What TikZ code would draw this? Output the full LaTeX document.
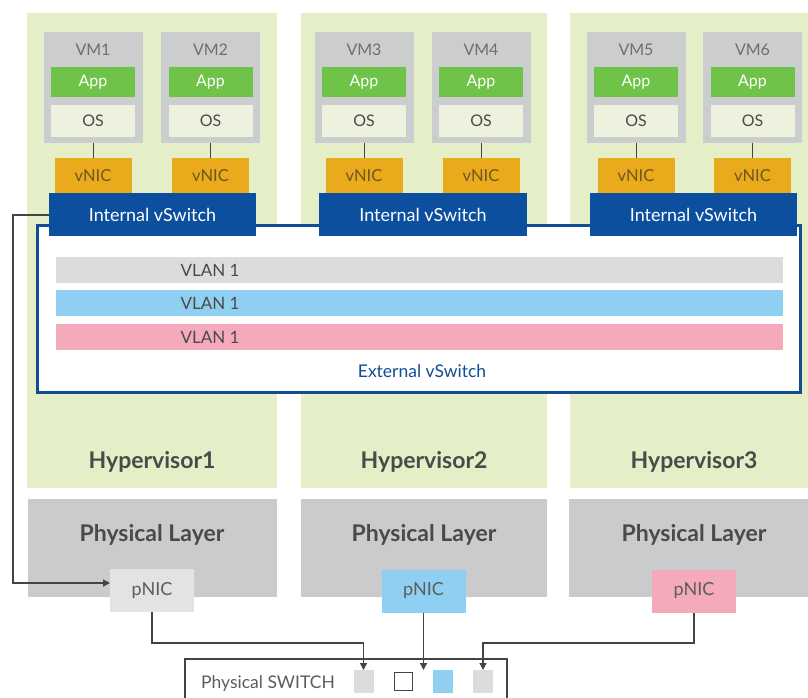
\documentclass[tikz,border=0pt]{standalone}
\usepackage{fontspec}
\setmainfont{Lato}
\usetikzlibrary{arrows.meta}
\definecolor{hvgreen}{HTML}{E4EFC8}
\definecolor{vmgray}{HTML}{CBCDCF}
\definecolor{appgreen}{HTML}{6EC348}
\definecolor{oscol}{HTML}{EDF2DE}
\definecolor{vniccol}{HTML}{E9AA1C}
\definecolor{vnictext}{HTML}{6E5522}
\definecolor{swblue}{HTML}{0C4F9F}
\definecolor{extblue}{HTML}{0F4D95}
\definecolor{vlangray}{HTML}{DCDCDC}
\definecolor{vlanblue}{HTML}{8FD0F2}
\definecolor{vlanpink}{HTML}{F4AABB}
\definecolor{physgray}{HTML}{C9CBCD}
\definecolor{pnicgray}{HTML}{E3E3E3}
\definecolor{txtgray}{HTML}{4A4A4A}
\definecolor{linegray}{HTML}{444444}
\tikzset{
  box/.style={rectangle, inner sep=0pt, outer sep=0pt, draw=none},
  hvbox/.style={box, fill=hvgreen},
  physbox/.style={box, fill=physgray},
  vmbox/.style={box, fill=vmgray, minimum width=99pt, minimum height=111pt},
  vmlabel/.style={text=txtgray!80, font=\fontsize{16}{16}\selectfont},
  appbox/.style={box, fill=appgreen, minimum width=84pt, minimum height=30pt, text=white, font=\fontsize{16}{16}\selectfont},
  osbox/.style={box, fill=oscol, minimum width=84pt, minimum height=32pt, text=txtgray, font=\fontsize{16}{16}\selectfont},
  vnicbox/.style={box, fill=vniccol, minimum width=77pt, minimum height=36pt, text=vnictext, font=\fontsize{16.5}{16}\selectfont},
  iswitch/.style={box, fill=swblue, minimum height=43pt, text=white, font=\fontsize{18}{18}\selectfont},
  vlanbar/.style={box, minimum width=727pt, minimum height=26pt},
  vlantext/.style={text=txtgray, font=\fontsize{17}{17}\selectfont},
  hvtext/.style={text=txtgray, font=\bfseries\fontsize{23}{23}\selectfont},
  pnicbox/.style={box, minimum width=84pt, minimum height=43pt, text=txtgray!90, font=\fontsize{18}{18}\selectfont},
  portbox/.style={box, minimum width=20pt, minimum height=23pt},
  conn/.style={draw=linegray, line width=1.2pt},
  arr/.style={conn, -{Triangle[length=7pt,width=7pt]}},
}
\begin{document}
\begin{tikzpicture}[x=1pt,y=-1pt]
\useasboundingbox (0,0) rectangle (808,698);
\clip (0,0) rectangle (808,698);
% hypervisor columns
\node[hvbox, minimum width=250pt, minimum height=475pt] (hv1) at (152,250.5) {};
\node[hvbox, minimum width=246pt, minimum height=475pt] (hv2) at (424,250.5) {};
\node[hvbox, minimum width=238pt, minimum height=475pt] (hv3) at (689,250.5) {};
\node[hvtext] (hvt1) at (152,462) {Hypervisor1};
\node[hvtext] (hvt2) at (424,462) {Hypervisor2};
\node[hvtext] (hvt3) at (694,462) {Hypervisor3};
% physical layers
\node[physbox, minimum width=249pt, minimum height=98pt] (ph1) at (152.5,548) {};
\node[physbox, minimum width=246pt, minimum height=98pt] (ph2) at (424,548) {};
\node[physbox, minimum width=239pt, minimum height=98pt] (ph3) at (688.5,548) {};
\node[hvtext] (pht1) at (152,535) {Physical Layer};
\node[hvtext] (pht2) at (424,535) {Physical Layer};
\node[hvtext] (pht3) at (694,535) {Physical Layer};
% VMs
\foreach \i/\cx in {1/93,2/210.5,3/364,4/481,5/636,6/752.5}{
  \node[vmbox] (vm\i) at (\cx,87.5) {};
  \node[vmlabel] (vml\i) at (\cx,50) {VM\i};
  \node[appbox] (app\i) at (\cx,82) {App};
  \node[osbox] (os\i) at (\cx,121) {OS};
  \node[vnicbox] (vnic\i) at (\cx,176) {vNIC};
  \draw[conn, line width=1pt] (vm\i.south) -- (vnic\i.north);
}
% external vSwitch
\node[box, draw=extblue, line width=3pt, fill=white, minimum width=763pt, minimum height=167pt] (ext) at (418.5,308.5) {};
\node[text=extblue, font=\fontsize{17.5}{17}\selectfont] (extl) at (422,371) {External vSwitch};
% internal vSwitches
\node[iswitch, minimum width=207pt] (is1) at (152.5,214.5) {Internal vSwitch};
\node[iswitch, minimum width=208pt] (is2) at (423,214.5) {Internal vSwitch};
\node[iswitch, minimum width=207pt] (is3) at (693.5,214.5) {Internal vSwitch};
% VLANs
\node[vlanbar, fill=vlangray] (vl1) at (419.5,270) {};
\node[vlanbar, fill=vlanblue] (vl2) at (419.5,303) {};
\node[vlanbar, fill=vlanpink] (vl3) at (419.5,337) {};
\node[vlantext] at (210,270) {VLAN 1};
\node[vlantext] at (210,303) {VLAN 1};
\node[vlantext] at (210,337) {VLAN 1};
% pNICs
\node[pnicbox, fill=pnicgray] (pn1) at (152,590.5) {pNIC};
\node[pnicbox, fill=vlanblue] (pn2) at (423.5,591) {pNIC};
\node[pnicbox, fill=vlanpink] (pn3) at (694,591) {pNIC};
% physical switch
\node[box, draw=linegray, line width=1.2pt, minimum width=322pt, minimum height=60pt] (psw) at (346,689) {};
\node[text=txtgray!90, font=\fontsize{17.5}{17}\selectfont] (pswl) at (268,684) {Physical SWITCH};
\node[portbox, fill=vlangray] (port1) at (363.5,681.5) {};
\node[portbox, fill=white, draw=linegray, line width=1.2pt, minimum width=18pt, minimum height=18pt] (port2) at (403.5,681.5) {};
\node[portbox, fill=vlanblue] (port3) at (443,681.5) {};
\node[portbox, fill=vlangray] (port4) at (483,681.5) {};
% connectors
\coordinate (c1) at (13,215);
\coordinate (c2) at (13,583);
\draw[arr] (is1.west |- c1) -- (c1) -- (c2) -- (pn1.west |- c2);
\draw[arr] (pn1.south) -- (152,643) -- (363.5,643) -- (port1.north);
\draw[arr] (pn2.south) -- (pn2.south |- port3.north);
\draw[arr] (pn3.south) -- (694,643) -- (483,643) -- (port4.north);
\end{tikzpicture}
\end{document}
